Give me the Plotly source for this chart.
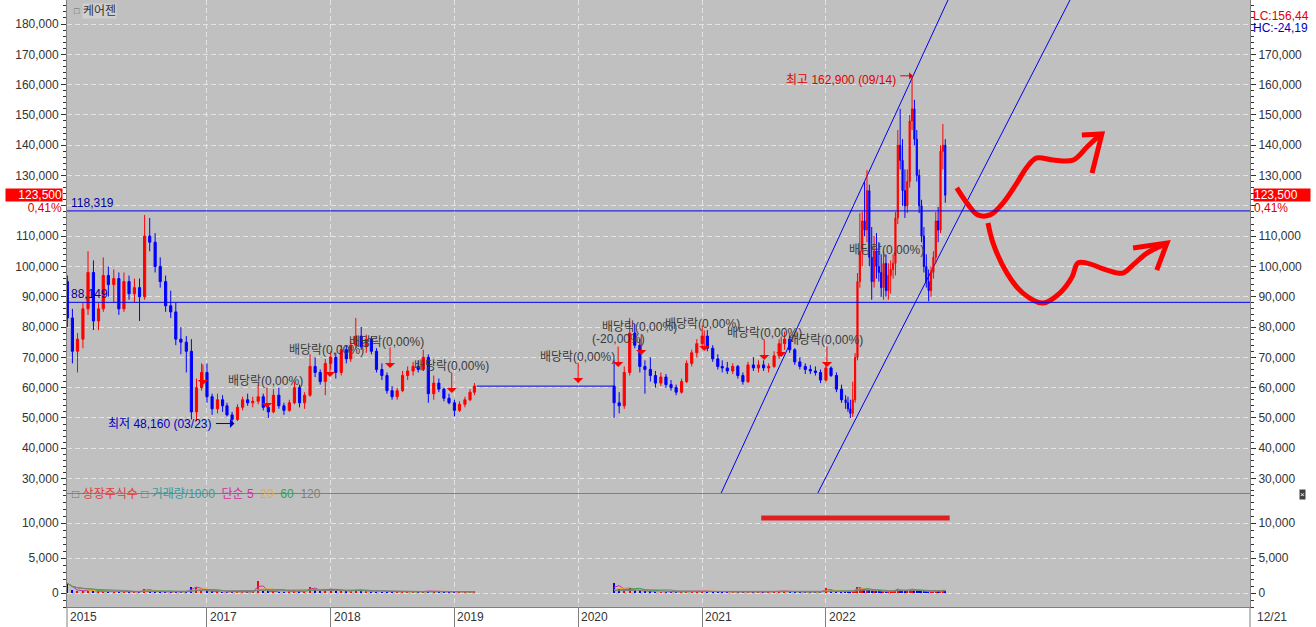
import pandas as pd
import plotly.graph_objects as go

FONT = "Liberation Sans, Noto Sans CJK KR, sans-serif"
UP, DOWN, LINE_BLUE = "#FF0000", "#0000FF", "#0000EE"

stock_name = "케어젠"

# ---------------- price data (semi-monthly bars) ----------------
semi_dates = [
    "2015-11-16", "2015-12-01", "2015-12-16",
    "2016-01-01", "2016-01-16", "2016-02-01", "2016-02-16", "2016-03-01", "2016-03-16",
    "2016-04-01", "2016-04-16", "2016-05-01", "2016-05-16", "2016-06-01", "2016-06-16",
    "2016-07-01", "2016-07-16", "2016-08-01", "2016-08-16", "2016-09-01", "2016-09-16",
    "2016-10-01", "2016-10-16", "2016-11-01", "2016-11-16", "2016-12-01", "2016-12-16",
    "2017-01-01", "2017-01-16", "2017-02-01", "2017-02-16", "2017-03-01", "2017-03-16",
    "2017-04-01", "2017-04-16", "2017-05-01", "2017-05-16", "2017-06-01", "2017-06-16",
    "2017-07-01", "2017-07-16", "2017-08-01", "2017-08-16", "2017-09-01", "2017-09-16",
    "2017-10-01", "2017-10-16", "2017-11-01", "2017-11-16", "2017-12-01", "2017-12-16",
    "2018-01-01", "2018-01-16", "2018-02-01", "2018-02-16", "2018-03-01", "2018-03-16",
    "2018-04-01", "2018-04-16", "2018-05-01", "2018-05-16", "2018-06-01", "2018-06-16",
    "2018-07-01", "2018-07-16", "2018-08-01", "2018-08-16", "2018-09-01", "2018-09-16",
    "2018-10-01", "2018-10-16", "2018-11-01", "2018-11-16", "2018-12-01", "2018-12-16",
    "2019-01-01", "2019-01-16", "2019-02-01", "2019-02-16", "2019-03-01",
    "2020-04-16", "2020-05-01", "2020-05-16", "2020-06-01", "2020-06-16",
    "2020-07-01", "2020-07-16", "2020-08-01", "2020-08-16", "2020-09-01", "2020-09-16",
    "2020-10-01", "2020-10-16", "2020-11-01", "2020-11-16", "2020-12-01", "2020-12-16",
    "2021-01-01", "2021-01-16", "2021-02-01", "2021-02-16", "2021-03-01", "2021-03-16",
    "2021-04-01", "2021-04-16", "2021-05-01", "2021-05-16", "2021-06-01", "2021-06-16",
    "2021-07-01", "2021-07-16", "2021-08-01", "2021-08-16", "2021-09-01", "2021-09-16",
    "2021-10-01", "2021-10-16", "2021-11-01", "2021-11-16", "2021-12-01", "2021-12-16",
    "2022-01-01", "2022-01-16", "2022-02-01", "2022-02-16",
]
semi_open = [
    95000, 83000, 72000,
    76000, 86000, 98000, 82000, 86000, 97000, 94000, 96000, 86000, 95000, 91000, 93000,
    90000, 110000, 108000, 100000, 95000, 87000, 85000, 76000, 75000, 72000, 52000, 60000,
    65000, 57000, 53000, 56000, 54000, 51000, 49500, 53500, 56000, 55000, 55500, 57000,
    53500, 52000, 57500, 54000, 52500, 55000, 60000, 55000, 57500, 67000, 65000, 62000,
    68000, 70000, 65000, 72500, 69500, 74000, 77000, 73500, 76000, 72000, 66000, 64000,
    59000, 57000, 59000, 64000, 65500, 67000, 66000, 70000, 58000, 61500, 59500, 56500,
    55000, 52500, 54500, 56000, 58500,
    60500, 55000, 54000, 65000, 78000, 74000, 67000, 66000, 64000, 61500, 63500,
    61000, 60000, 58500, 62000, 68000, 71500,
    74500, 77000, 73000, 69500, 67000, 66500, 65500, 67000, 64000, 62000, 67500, 66500,
    67500, 66500, 67000, 70500, 74500, 76000, 72500, 68500, 67000, 66000, 65500, 65000,
    62500, 66500, 64000, 59500,
]
semi_high = [
    97000, 86000, 78000,
    88000, 105000, 102000, 88000, 103000, 100000, 99000, 98000, 98000, 97000, 96000, 96000,
    117000, 116000, 111000, 103000, 97000, 92000, 88000, 80000, 77000, 76000, 63000, 68000,
    68000, 58000, 58000, 57500, 55000, 52000, 54500, 57000, 58000, 57000, 61000, 58000,
    54500, 59500, 60000, 55000, 56000, 62000, 61000, 58500, 71000, 70000, 66000, 69500,
    72000, 71500, 74000, 74000, 75500, 83000, 80000, 77500, 77000, 73000, 68000, 65000,
    60500, 60000, 65500, 67000, 68500, 69000, 72500, 71000, 64000, 63000, 60000, 58000,
    56000, 55500, 57000, 59500, 61500,
    69000, 58500, 67000, 83000, 81000, 76000, 69000, 70000, 65500, 65000, 64500,
    62500, 61000, 63000, 69000, 72500, 76000,
    80500, 79000, 74000, 71000, 69000, 68500, 68000, 67500, 65000, 68500, 70000, 69000,
    69000, 68000, 72000, 76000, 78500, 77000, 73000, 70000, 68000, 67500, 67000, 66000,
    68000, 67000, 65000, 61000,
]
semi_low = [
    80000, 68000, 65000,
    73000, 84000, 79000, 79000, 85000, 90000, 88000, 84000, 85000, 89000, 88000, 82000,
    89000, 105000, 98000, 93000, 85000, 83000, 74000, 71000, 65000, 49500, 49000, 59000,
    55000, 51000, 51500, 52000, 50500, 48160, 49000, 52500, 54000, 53500, 54500, 52500,
    50000, 51500, 53000, 51000, 52000, 54500, 53500, 53000, 57000, 63500, 61000, 57500,
    66000, 63000, 64000, 68000, 68500, 73000, 72500, 71500, 71000, 65000, 62500, 58000,
    56000, 56000, 58500, 62500, 64000, 65000, 65500, 55000, 56000, 58500, 55500, 54500,
    50500, 52000, 53500, 55500, 57500,
    50000, 51500, 53000, 64000, 73000, 65000, 58000, 62000, 60000, 60500, 60000,
    59000, 57500, 58000, 61500, 67000, 70000,
    73500, 72000, 68500, 66000, 65000, 64500, 64500, 63000, 61000, 61500, 65500, 65000,
    65500, 65000, 66500, 69500, 72500, 71500, 67500, 66000, 64500, 64500, 64000, 61500,
    62000, 63500, 58500, 55000,
]
semi_close = [
    83000, 72000, 76000,
    86000, 98000, 82000, 86000, 97000, 94000, 96000, 86000, 95000, 91000, 93000, 90000,
    110000, 108000, 100000, 95000, 87000, 85000, 76000, 75000, 72000, 52000, 60000, 65000,
    57000, 53000, 56000, 54000, 51000, 49500, 53500, 56000, 55000, 55500, 57000, 53500,
    52000, 57500, 54000, 52500, 55000, 60000, 55000, 57500, 67000, 65000, 62000, 68000,
    70000, 65000, 72500, 69500, 74000, 77000, 73500, 76000, 72000, 66000, 64000, 59000,
    57000, 59000, 64000, 65500, 67000, 66000, 70000, 58000, 61500, 59500, 56500, 55000,
    52500, 54500, 56000, 58500, 60500,
    55000, 54000, 65000, 78000, 74000, 67000, 66000, 64000, 61500, 63500, 61000,
    60000, 58500, 62000, 68000, 71500, 74500,
    77000, 73000, 69500, 67000, 66500, 65500, 67000, 64000, 62000, 67500, 66500, 67500,
    66500, 67000, 70500, 74500, 76000, 72500, 68500, 67000, 66000, 65500, 65000, 62500,
    66500, 64000, 59500, 56000,
]
semi_volume = [
    1400, 500, 350,
    300, 400, 300, 200, 250, 200, 180, 200, 220, 180, 160, 200,
    600, 350, 200, 180, 170, 160, 200, 180, 220, 800, 900, 400,
    300, 200, 180, 160, 170, 250, 200, 180, 160, 150, 1700, 300,
    200, 250, 200, 180, 400, 350, 250, 200, 900, 500, 300, 500,
    600, 300, 350, 250, 300, 500, 350, 250, 200, 220, 200, 180,
    160, 150, 200, 180, 170, 160, 250, 300, 300, 200, 180, 160,
    200, 170, 160, 150, 160,
    1500, 600, 500, 700, 400, 300, 250, 220, 200, 180, 170,
    160, 180, 200, 250, 260, 300,
    350, 250, 200, 180, 170, 160, 170, 160, 150, 250, 200, 180,
    170, 160, 250, 300, 280, 200, 180, 170, 160, 150, 160, 180,
    700, 250, 200, 220,
]

# ---------------- price data (weekly bars, 2022) ----------------
week_dates = [
    "2022-02-28", "2022-03-07", "2022-03-14", "2022-03-21", "2022-03-28",
    "2022-04-04", "2022-04-11", "2022-04-18", "2022-04-25",
    "2022-05-02", "2022-05-09", "2022-05-16", "2022-05-23", "2022-05-30",
    "2022-06-06", "2022-06-13", "2022-06-20", "2022-06-27",
    "2022-07-04", "2022-07-11", "2022-07-18", "2022-07-25",
    "2022-08-01", "2022-08-08", "2022-08-15", "2022-08-22", "2022-08-29",
    "2022-09-05", "2022-09-12", "2022-09-19", "2022-09-26",
    "2022-10-03", "2022-10-10", "2022-10-17", "2022-10-24", "2022-10-31",
    "2022-11-07", "2022-11-14", "2022-11-21", "2022-11-28",
    "2022-12-05", "2022-12-12", "2022-12-19",
]
week_open = [
    56000, 55000, 53000, 51500, 56000, 70000, 95000, 105000, 115000,
    112000, 125000, 103000, 95000, 105000, 100000, 98000, 93000, 101000,
    92000, 97000, 99000, 101000, 116000, 140000, 135000, 125000, 120000,
    128000, 148000, 152000, 142000, 130000, 120000, 110000, 100000, 95000,
    92000, 98000, 103000, 115000, 112000, 138000, 140000,
]
week_high = [
    57500, 57000, 56000, 62000, 71400, 97800, 117600, 118000, 128000,
    131800, 127000, 113000, 110000, 111000, 108000, 104000, 105000, 104000,
    101000, 102000, 104000, 118000, 145000, 152000, 142000, 132000, 132000,
    150000, 162900, 155000, 145000, 132000, 122000, 113000, 104000, 99000,
    100000, 105000, 118000, 119600, 140000, 147000, 142000,
]
week_low = [
    53000, 52000, 50000, 50300, 55000, 69000, 93000, 100000, 110000,
    108000, 100000, 89000, 93000, 96000, 95000, 90000, 89000, 90000,
    89000, 91000, 96000, 97000, 114000, 132000, 120000, 116000, 117600,
    126000, 145000, 140000, 128000, 117600, 108000, 98000, 93000, 88500,
    90000, 96000, 101000, 108000, 111000, 132000, 121000,
]
week_close = [
    55000, 53000, 51500, 56000, 70000, 95000, 105000, 115000, 112000,
    125000, 103000, 95000, 105000, 100000, 98000, 93000, 101000, 92000,
    97000, 99000, 101000, 116000, 140000, 135000, 125000, 120000, 128000,
    148000, 152000, 142000, 130000, 120000, 110000, 100000, 95000, 92000,
    98000, 103000, 115000, 112000, 138000, 140000, 123500,
]
week_volume = [
    250, 200, 250, 300, 500, 900, 700, 500, 450, 600, 400, 350, 300, 280,
    250, 260, 240, 220, 230, 250, 300, 500, 600, 450, 350, 300, 350, 500,
    600, 400, 350, 300, 280, 260, 250, 240, 230, 260, 350, 300, 400, 450, 350,
]

# trading halt (flat price line)
halt_dates = ["2019-03-08", "2020-04-16"]
halt_price = [60500, 60500]

# reference levels and key marks
level_values = [118319, 88149]
level_labels = ["118,319", "88,149"]
peak_date, peak_price, peak_text = "2022-09-14", 162900, "최고 162,900 (09/14)"
low_date, low_price, low_text = "2017-03-23", 48160, "최저 48,160 (03/23)"
last_price, last_change = 123500, "0,41%"
lc_text, hc_text = "LC:156,44", "HC:-24,19"

# trend channel (drawn lines)
channel_a_dates = ["2021-02-26", "2022-12-27"]
channel_b_dates = ["2021-12-08", "2023-12-22"]
channel_prices = [25230, 187920]

# dividend markers
div_arrow_dates = ["2016-12-20", "2017-06-27", "2017-12-30", "2018-06-25", "2018-12-24",
                   "2020-01-01", "2020-04-28", "2020-07-05", "2021-01-07", "2021-07-03",
                   "2021-08-22", "2022-01-04"]
div_arrow_prices = [60870, 53280, 63510, 66480, 58230, 61530, 66810, 70770, 72090,
                    69120, 70110, 66810]
div_label_dates = ["2017-06-24", "2017-12-21", "2018-06-16", "2018-12-22", "2019-12-29",
                   "2020-06-29", "2020-04-28", "2021-01-01", "2021-07-03", "2022-01-01",
                   "2022-06-30"]
div_label_prices = [62190, 72420, 75060, 67140, 70110, 80010, 76050, 80990, 78030,
                    75720, 105420]
div_label_texts = ["배당락(0,00%)"] * 6 + ["(-20,00%)"] + ["배당락(0,00%)"] * 4

# hand-drawn red sketches
sketch_up_dates = ["2023-01-22", "2023-02-21", "2023-03-25", "2023-04-30", "2023-06-07",
                   "2023-07-18", "2023-08-17", "2023-09-15", "2023-11-02", "2023-12-31",
                   "2024-02-10", "2024-03-19"]
sketch_up_prices = [125900, 120900, 117000, 117000, 120900, 127500, 132800, 135800,
                    135100, 135100, 139400, 143400]
sketch_up_head_dates = ["2024-01-26", "2024-03-25", "2024-02-25"]
sketch_up_head_prices = [143400, 143700, 130800]
sketch_dn_dates = ["2023-04-24", "2023-05-09", "2023-06-19", "2023-08-05", "2023-10-03",
                   "2023-11-22", "2023-12-28", "2024-01-14", "2024-02-10", "2024-04-09",
                   "2024-05-26", "2024-06-25", "2024-08-05", "2024-10-03"]
sketch_dn_prices = [114300, 107700, 97800, 91200, 87900, 91200, 96500, 101100, 101100,
                    98800, 97800, 100500, 104400, 107700]
sketch_dn_head_dates = ["2024-06-25", "2024-10-03", "2024-09-03"]
sketch_dn_head_prices = [106100, 107700, 98800]
vol_mark_dates = ["2021-06-24", "2023-01-01"]
vol_mark_value = 10700

# axes
x_range = ["2015-11-15", "2025-06-05"]
price_range = [25230, 187920]
vol_range = [-2000, 14143]
price_ticks = [30000, 40000, 50000, 60000, 70000, 80000, 90000, 100000, 110000, 120000,
               130000, 140000, 150000, 160000, 170000, 180000]
price_tick_labels = ["30,000", "40,000", "50,000", "60,000", "70,000", "80,000", "90,000",
                     "100,000", "110,000", "120,000", "130,000", "140,000", "150,000",
                     "160,000", "170,000", "180,000"]
hidden_left = {"120,000"}             # covered by the price tag in the reference
hidden_right = {"120,000", "180,000"}  # covered by price tag / LC-HC text
vol_ticks = [0, 5000, 10000]
vol_tick_labels = ["0", "5,000", "10,000"]
year_ticks = ["2017-01-01", "2018-01-01", "2019-01-01", "2020-01-01", "2021-01-01", "2022-01-01"]
x_label_dates = ["2015-11-16"] + year_ticks
x_label_texts = ["2015", "2017", "2018", "2019", "2020", "2021", "2022"]
right_edge_label = "12/21"
ma_windows = [2, 4, 6, 12]
ma_colors = ["#D030A0", "#E0B030", "#30A050", "#808080"]

# ---------------- figure ----------------
fig = go.Figure()

candle_style = dict(
    increasing=dict(line=dict(color=UP, width=1), fillcolor=UP),
    decreasing=dict(line=dict(color=DOWN, width=1), fillcolor=DOWN),
    whiskerwidth=0, hoverinfo="skip",
)
fig.add_trace(go.Candlestick(x=semi_dates, open=semi_open, high=semi_high, low=semi_low,
                             close=semi_close, xaxis="x", yaxis="y", **candle_style))
fig.add_trace(go.Candlestick(x=week_dates, open=week_open, high=week_high, low=week_low,
                             close=week_close, xaxis="x3", yaxis="y", **candle_style))
fig.add_trace(go.Scatter(x=halt_dates, y=halt_price, mode="lines",
                         line=dict(color=DOWN, width=1), xaxis="x", yaxis="y"))

for d in (channel_a_dates, channel_b_dates):
    fig.add_trace(go.Scatter(x=d, y=channel_prices, mode="lines",
                             line=dict(color=LINE_BLUE, width=1), xaxis="x", yaxis="y"))

sk = dict(mode="lines", line=dict(color="#FF0000", width=5, shape="spline"), xaxis="x", yaxis="y")
fig.add_trace(go.Scatter(x=sketch_up_dates, y=sketch_up_prices, **sk))
fig.add_trace(go.Scatter(x=sketch_dn_dates, y=sketch_dn_prices, **sk))
skh = dict(mode="lines", line=dict(color="#FF0000", width=5), xaxis="x", yaxis="y")
fig.add_trace(go.Scatter(x=sketch_up_head_dates, y=sketch_up_head_prices, **skh))
fig.add_trace(go.Scatter(x=sketch_dn_head_dates, y=sketch_dn_head_prices, **skh))

# volume panel
all_dates = semi_dates + week_dates
all_open = semi_open + week_open
all_close = semi_close + week_close
all_vol = semi_volume + week_volume
bar_colors = [UP if c >= o else DOWN for o, c in zip(all_open, all_close)]
fig.add_trace(go.Bar(x=all_dates, y=all_vol, marker=dict(color=bar_colors, line=dict(width=0)),
                     width=86400000 * 4, xaxis="x2", yaxis="y2"))
vol_s = pd.Series(all_vol, index=pd.to_datetime(all_dates))
for w, col in zip(ma_windows, ma_colors):
    ma = vol_s.rolling(w, min_periods=1).mean()
    pre = ma[ma.index < "2020-01-01"]
    post = ma[ma.index >= "2020-01-01"]
    xs = list(pre.index) + [None] + list(post.index)
    ys = list(pre.values) + [None] + list(post.values)
    fig.add_trace(go.Scatter(x=xs, y=ys, mode="lines", line=dict(color=col, width=1),
                             xaxis="x2", yaxis="y2"))
fig.add_trace(go.Scatter(x=vol_mark_dates, y=[vol_mark_value] * 2, mode="lines",
                         line=dict(color="#E02020", width=5), xaxis="x2", yaxis="y2"))

# invisible traces so that the right-hand axes render
fig.add_trace(go.Scatter(x=[None], y=[None], xaxis="x", yaxis="y3"))
fig.add_trace(go.Scatter(x=[None], y=[None], xaxis="x2", yaxis="y4"))

# ---------------- layout ----------------
H_PLOT = 607.0
top_dom = [(H_PLOT - 493) / H_PLOT, 1]
bot_dom = [0, (H_PLOT - 494) / H_PLOT]
grid = dict(showgrid=True, gridcolor="#E4E4E4", griddash="5px,3px", gridwidth=1)
frame = dict(showline=True, linecolor="#808080", linewidth=1, mirror=True, zeroline=False,
             automargin=False)
tickfont = dict(family=FONT, size=12, color="#333333")

def yax(rng, vals, texts, minor_dt, anchor, domain=None, side="left", overlay=None):
    d = dict(range=rng, tickvals=vals, ticktext=texts, ticks="outside", ticklen=5,
             tickcolor="#333333", tickfont=tickfont, side=side, fixedrange=True, anchor=anchor,
             minor=dict(tickmode="linear", tick0=0, dtick=minor_dt, ticklen=3,
                        ticks="outside", tickcolor="#333333", showgrid=False),
             **frame)
    if overlay:
        d.update(overlaying=overlay, showgrid=False)
    else:
        d.update(domain=domain, **grid)
    return d

left_texts = ["" if t in hidden_left else t for t in price_tick_labels]
right_texts = ["" if t in hidden_right else t for t in price_tick_labels]

fig.update_layout(
    width=1316, height=627,
    margin=dict(l=67, r=66, t=0, b=20, autoexpand=False),
    paper_bgcolor="white", plot_bgcolor="#C0C0C0",
    showlegend=False, bargap=0,
    font=dict(family=FONT, size=12, color="#333333"),
    xaxis=dict(domain=[0, 1], anchor="y", type="date", range=x_range, tickvals=year_ticks,
               showticklabels=False, ticks="", rangeslider=dict(visible=False), **grid, **frame),
    xaxis3=dict(overlaying="x", anchor="y", type="date", range=x_range, visible=False,
                rangeslider=dict(visible=False), automargin=False),
    xaxis2=dict(domain=[0, 1], anchor="y2", type="date", range=x_range, tickvals=year_ticks,
                showticklabels=False, ticks="outside", ticklen=20, tickcolor="#808080",
                **grid, **frame),
    yaxis=yax(price_range, price_ticks, left_texts, 2000, "x", domain=top_dom),
    yaxis3=yax(price_range, price_ticks, right_texts, 2000, "x", side="right", overlay="y"),
    yaxis2=yax(vol_range, vol_ticks, vol_tick_labels, 1000, "x2", domain=bot_dom),
    yaxis4=yax(vol_range, vol_ticks, vol_tick_labels, 1000, "x2", side="right", overlay="y2"),
)

shapes = []
for v in level_values:
    shapes.append(dict(type="line", xref="paper", x0=0, x1=1, yref="y", y0=v, y1=v,
                       line=dict(color=LINE_BLUE, width=1)))
for xp in (0, 1):
    shapes.append(dict(type="line", xref="paper", x0=xp, x1=xp, yref="paper", y0=-20 / H_PLOT,
                       y1=0, line=dict(color="#808080", width=1)))
fig.update_layout(shapes=shapes)

ann = []
# level labels
for v, t in zip(level_values, level_labels):
    ann.append(dict(xref="paper", x=0.002, yref="y", y=v, yanchor="bottom", xanchor="left",
                    text=t, showarrow=False, font=dict(color="#0000A0", size=12),
                    yshift=-1))
# dividend arrows and labels
for d, p in zip(div_arrow_dates, div_arrow_prices):
    ann.append(dict(x=d, y=p, xref="x", yref="y", text="", showarrow=True, arrowhead=1,
                    arrowsize=1.7, arrowwidth=1, arrowcolor="#FF0000", ax=0, ay=-22))
for d, p, t in zip(div_label_dates, div_label_prices, div_label_texts):
    ann.append(dict(x=d, y=p, xref="x", yref="y", text=t, showarrow=False,
                    font=dict(color="#3A3A3A", size=12)))
# peak and low
ann.append(dict(x=peak_date, y=peak_price, xref="x", yref="y", text="", showarrow=True,
                arrowhead=1, arrowsize=1.2, arrowwidth=1, arrowcolor="#E00000", ax=-14, ay=0))
ann.append(dict(x=peak_date, y=peak_price, xref="x", yref="y", text=peak_text,
                showarrow=False, xanchor="right", xshift=-15, yshift=-4,
                font=dict(color="#E00000", size=12)))
ann.append(dict(x=low_date, y=low_price, xref="x", yref="y", text="", showarrow=True,
                arrowhead=1, arrowsize=1.5, arrowwidth=1, arrowcolor="#0000C0", ax=-20, ay=0))
ann.append(dict(x=low_date, y=low_price, xref="x", yref="y", text=low_text,
                showarrow=False, xanchor="right", xshift=-21,
                font=dict(color="#0000C0", size=12)))
# price tags
for xp, xa in ((-4 / 1183, "right"), (1 + 3 / 1183, "left")):
    ann.append(dict(xref="paper", x=xp, xanchor=xa, yref="y", y=last_price,
                    text=f"{last_price:,}", showarrow=False, bgcolor="#FF0000",
                    font=dict(color="white", size=12), width=56, height=12, borderpad=0,
                    align="right" if xa == "right" else "left"))
    ann.append(dict(xref="paper", x=xp, xanchor=xa, yref="y", y=last_price, yshift=-13,
                    text=last_change, showarrow=False, font=dict(color="#E00000", size=12),
                    borderpad=0, width=56, height=12,
                    align="right" if xa == "right" else "left"))
ann.append(dict(xref="paper", x=1 + 2 / 1183, xanchor="left", yref="paper",
                y=(H_PLOT - 8) / H_PLOT, text=lc_text, showarrow=False,
                font=dict(color="#E00000", size=12), borderpad=0))
ann.append(dict(xref="paper", x=1 + 2 / 1183, xanchor="left", yref="paper",
                y=(H_PLOT - 20) / H_PLOT, text=hc_text, showarrow=False,
                font=dict(color="#0000C0", size=12), borderpad=0))
# title
ann.append(dict(xref="paper", x=5 / 1183, xanchor="left", yref="paper", y=1, yanchor="top",
                yshift=-4, text="□", showarrow=False, font=dict(color="#606060", size=9)))
ann.append(dict(xref="paper", x=15 / 1183, xanchor="left", yref="paper", y=1, yanchor="top",
                yshift=-3, text=stock_name, showarrow=False, bgcolor="#D0D0D0",
                font=dict(color="#333333", size=12), borderpad=0))
# volume legend
legend_html = ("<span style='color:#707070'>□</span> <span style='color:#E03C3C'>상장주식수</span>"
               " <span style='color:#707070'>□</span> <span style='color:#3C9A9A'>거래량/1000</span>"
               "  <span style='color:#D030A0'>단순 5</span>  <span style='color:#E0B030'>20</span>"
               "  <span style='color:#30A050'>60</span>  <span style='color:#808080'>120</span>")
ann.append(dict(xref="paper", x=3 / 1183, xanchor="left", yref="paper",
                y=(H_PLOT - 503) / H_PLOT, text=legend_html, showarrow=False,
                font=dict(size=12)))
ann.append(dict(xref="paper", x=(1306 - 67) / 1183, yref="paper", y=(H_PLOT - 500) / H_PLOT,
                text="×", showarrow=False, bgcolor="#404040", font=dict(color="white", size=8),
                borderpad=0))
# x labels
for d, t in zip(x_label_dates, x_label_texts):
    ann.append(dict(x=d, xref="x2", yref="paper", y=-10 / H_PLOT, xanchor="left",
                    yanchor="middle", xshift=1, text=t, showarrow=False,
                    font=dict(color="#333333", size=12)))
ann.append(dict(xref="paper", x=1 + 5 / 1183, yref="paper", y=-10 / H_PLOT, xanchor="left",
                yanchor="middle", text=right_edge_label, showarrow=False,
                font=dict(color="#333333", size=12)))
fig.update_layout(annotations=ann)

fig.write_html("out.html", config={"displayModeBar": False},
               post_script="document.body.style.margin='0px';document.body.style.overflow='hidden';")
